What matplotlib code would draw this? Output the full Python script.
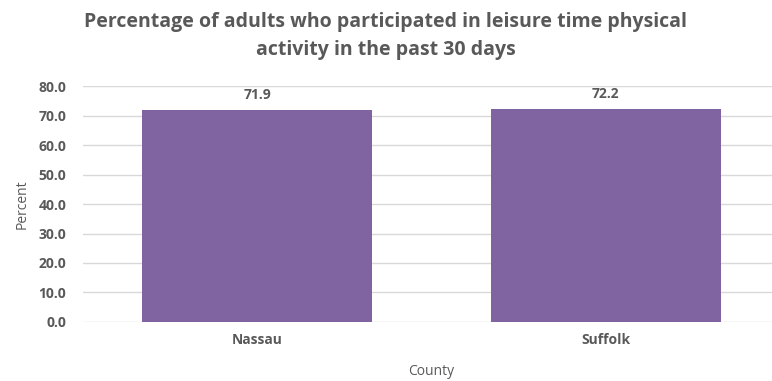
import matplotlib
matplotlib.use("Agg")
import matplotlib.pyplot as plt

counties = ["Nassau", "Suffolk"]
percent = [71.9, 72.2]
yticks = [0, 10, 20, 30, 40, 50, 60, 70, 80]

GRAY = "#595959"
BAR = "#8064A2"

plt.rcParams["font.family"] = ["Open Sans", "DejaVu Sans"]

fig = plt.figure(figsize=(7.72, 3.81), dpi=100)
ax = fig.add_axes([0.1075, 0.155, 0.903, 0.619])

x = range(len(counties))
bars = ax.bar(x, percent, width=0.66, color=BAR, zorder=2)
for b, v in zip(bars, percent):
    ax.text(b.get_x() + b.get_width() / 2, v + 2.8, f"{v:.1f}", ha="center", va="bottom",
            fontsize=10, fontweight="bold", color=GRAY)

ax.set_xlim(-0.5, 1.5)
ax.set_ylim(0, 80)
ax.set_yticks(yticks)
ax.set_yticklabels([f"{t:.1f}" for t in yticks], fontsize=10, fontweight="bold", color=GRAY)
ax.set_xticks(list(x))
ax.set_xticklabels(counties, fontsize=10, fontweight="bold", color=GRAY)
ax.tick_params(length=0, pad=8)
ax.tick_params(axis="y", pad=12)
ax.grid(axis="y", color="#d9d9d9", lw=1, zorder=0)
for s in ax.spines.values():
    s.set_visible(False)
ax.set_ylabel("Percent", fontsize=10, color=GRAY, labelpad=6)
ax.set_xlabel("County", fontsize=10, color=GRAY, labelpad=12)

fig.text(0.5, 0.905, "Percentage of adults who participated in leisure time physical\nactivity in the past 30 days",
         ha="center", va="center", fontsize=14, fontweight="bold", color=GRAY, linespacing=1.5)

fig.savefig("out.png", dpi=100)
